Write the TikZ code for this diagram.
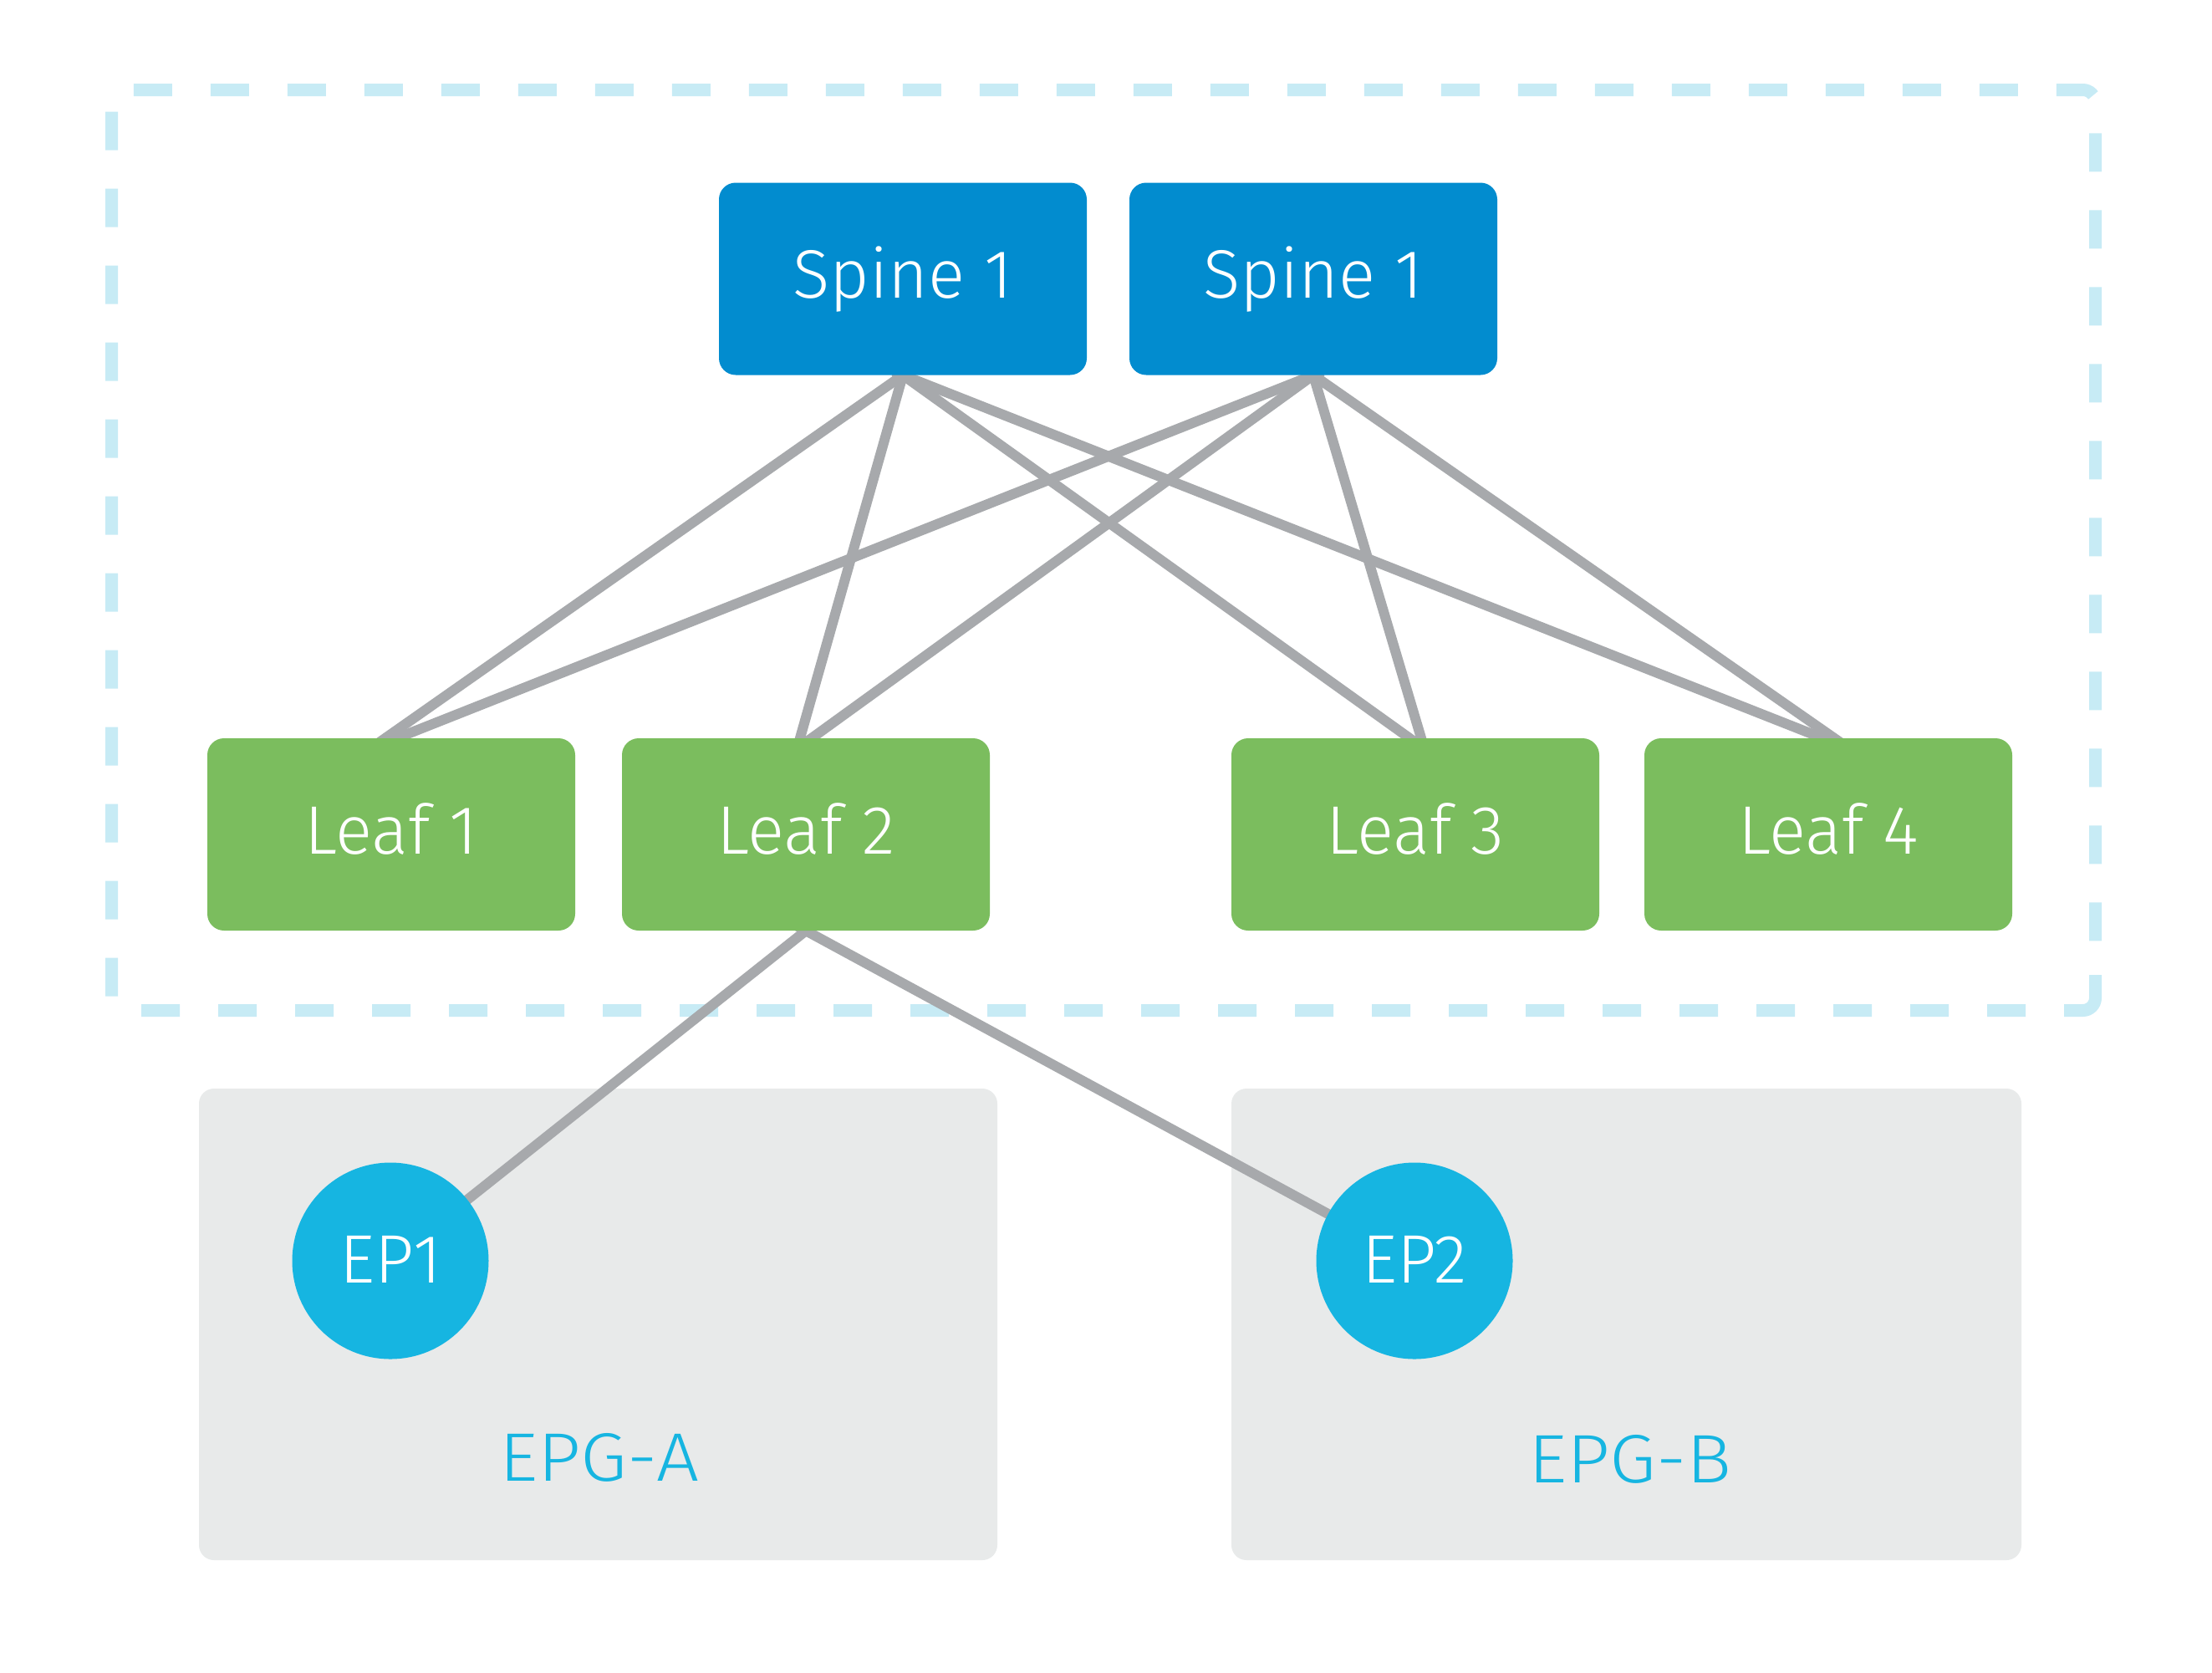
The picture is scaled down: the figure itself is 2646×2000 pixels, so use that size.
\documentclass[tikz,border=0pt]{standalone}
\usepackage{fontspec}
\newfontfamily\lblfont{Fira Sans Light}
\newfontfamily\epgfont{Fira Sans Light}[FakeStretch=1.1]
\definecolor{spineblue}{RGB}{2,140,207}
\definecolor{leafgreen}{RGB}{123,189,94}
\definecolor{epcyan}{RGB}{22,181,225}
\definecolor{epggray}{RGB}{232,234,234}
\definecolor{linkgray}{RGB}{167,169,172}
\definecolor{fabricblue}{RGB}{199,235,245}
\pgfdeclarelayer{back}
\pgfdeclarelayer{lines}
\pgfsetlayers{back,lines,main}
\begin{document}
\begin{tikzpicture}[x=1pt,y=-1pt,
  lbl/.style={font=\lblfont\fontsize{82pt}{96pt}\selectfont},
  box/.style={lbl, rounded corners=20pt, minimum width=440pt, minimum height=230pt, inner sep=0pt, text=white, text height=56.5pt, text depth=10pt},
  spinebox/.style={box, fill=spineblue},
  leafbox/.style={box, fill=leafgreen},
  epnode/.style={lbl, circle, fill=epcyan, minimum size=235pt, inner sep=0pt, text=white, text height=56.5pt, text depth=4pt},
  epgbox/.style={rounded corners=18pt, fill=epggray, inner sep=0pt, minimum height=564pt},
  epglabel/.style={font=\epgfont\fontsize{82pt}{96pt}\selectfont, text=epcyan, inner sep=0pt, text height=56.5pt, text depth=0pt},
  link/.style={draw=linkgray, line width=12pt, shorten <=-12pt, shorten >=-12pt},
  fabric/.style={draw=fabricblue, line width=15pt}]
\useasboundingbox (0,0) rectangle (2646,2000);

% fabric boundary
\begin{pgfonlayer}{back}
\draw[fabric, dash pattern=on 46pt off 46pt, dash phase=46pt, rounded corners=15pt]
  (2469,1208.5) -- (133.5,1208.5) -- (133.5,107.5) -- (2506.5,107.5) -- (2506.5,1166);
\draw[fabric, rounded corners=15pt] (2506.5,1166) -- (2506.5,1208.5) -- (2469,1208.5);
\node[epgbox, minimum width=955pt] (epgA) at (715.5,1584) {};
\node[epgbox, minimum width=945pt] (epgB) at (1945.5,1584) {};
\end{pgfonlayer}

% switches
\node[spinebox] (s1) at (1080,333.5) {Spine 1};
\node[spinebox] (s2) at (1571,333.5) {Spine 1};
\node[leafbox] (l1) at (468,998) {Leaf 1};
\node[leafbox] (l2) at (964,998) {Leaf 2};
\node[leafbox] (l3) at (1693,998) {Leaf 3};
\node[leafbox] (l4) at (2187,998) {Leaf 4};

% endpoints
\node[epnode] (ep1) at (467,1508) {EP1};
\node[epnode] (ep2) at (1692,1508) {EP2};
\node[epglabel] (labA) at (717,1743) {EPG-A};
\node[epglabel] (labB) at (1950,1745.5) {EPG-B};

% links
\begin{pgfonlayer}{lines}
\foreach \l in {l1,l2,l3,l4}{
  \draw[link] (s1.south) -- ([xshift=-7pt]\l.north);
  \draw[link] (s2.south) -- ([xshift=7pt]\l.north);
}
\draw[link, shorten >=0pt] (l2.south) -- (ep1.center);
\draw[link, shorten >=0pt] (l2.south) -- (ep2.center);
\end{pgfonlayer}
\end{tikzpicture}
\end{document}
